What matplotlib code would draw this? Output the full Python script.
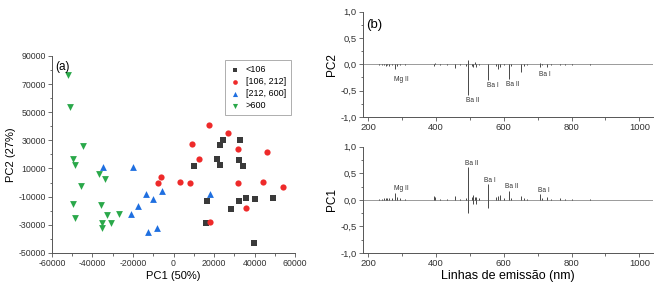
import matplotlib
matplotlib.use('Agg')
import matplotlib.pyplot as plt
from matplotlib.ticker import MultipleLocator, FixedLocator, FuncFormatter

plt.rcParams['font.family'] = ['Liberation Sans', 'DejaVu Sans']
plt.rcParams['axes.unicode_minus'] = False

# --- PCA scores (panel a) ---
groups = ['<106', '[106, 212]', '[212, 600]', '>600']

g1_x = [23000, 24500, 33000, 21300, 32500, 10300, 22800, 34500, 16700, 32500,
        35700, 40000, 49300, 28500, 16000, 39800]
g1_y = [27000, 30000, 30000, 16500, 16000, 11800, 12500, 11600, -13300, -13300,
        -11000, -12000, -11000, -18700, -29000, -43000]

g2_x = [17700, 27000, 9000, 32000, 46000, 12500, -6000, -7600, 3000, 8000,
        32000, 44000, 54000, 36000, 18000]
g2_y = [41000, 35000, 27500, 24000, 22000, 16500, 3800, 0, 400, 0,
        -300, 200, -3000, -18000, -28000]

g3_x = [-5800, -10300, 18000, -8000, -34700, -19900, -13700, -17700, -21100, -12700]
g3_y = [-5700, -11800, -7900, -32000, 10900, 10900, -8300, -16400, -22500, -35100]

g4_x = [-52200, -51300, -44500, -49500, -48600, -36600, -33800, -45800, -49800,
        -35800, -48500, -32700, -26800, -35200, -30900, -35200]
g4_y = [76700, 53800, 25800, 16800, 12500, 6300, 2800, -2200, -15000,
        -15900, -24900, -23000, -22100, -28900, -28900, -32000]

score_yticks = [-50000, -30000, -10000, 10000, 30000, 50000, 70000, 90000]

# --- loadings (panel b), wavelength in nm ---
pc2_nm = [232, 240, 248, 253, 257, 263, 270, 279.6, 285, 293, 309, 394, 396, 413,
          434, 455.4, 470, 489, 493.4, 493.4, 505, 510, 514, 519, 527, 553.5, 577,
          583, 588, 600, 614, 620, 650, 660, 670, 706, 706, 712, 728, 740, 767,
          780, 800, 855]
pc2_val = [-0.01, -0.015, -0.02, -0.025, -0.02, -0.03, -0.015, -0.08, -0.03, -0.02,
           -0.01, -0.04, 0.03, -0.01, -0.02, -0.07, -0.01, -0.04, -0.59, 0.09,
           -0.03, -0.06, 0.04, -0.05, -0.02, -0.30, -0.03, -0.08, -0.06, -0.02,
           -0.27, -0.04, -0.15, -0.03, -0.02, -0.05, 0.02, -0.02, -0.05, -0.02,
           -0.02, -0.01, -0.01, -0.01]

pc1_nm = [232, 240, 248, 253, 257, 263, 270, 279.6, 285, 293, 309, 394, 396, 413,
          434, 455.4, 470, 489, 493.4, 493.4, 505, 510, 510, 514, 519, 519, 527,
          553.5, 553.5, 577, 583, 588, 600, 614, 620, 650, 660, 670, 706, 712,
          728, 740, 767, 780, 800, 855]
pc1_val = [0.02, 0.025, 0.03, 0.04, 0.03, 0.035, 0.03, 0.13, 0.05, 0.03, 0.02,
           0.07, 0.05, 0.02, 0.02, 0.07, 0.02, 0.04, 0.62, -0.24, 0.05, 0.09,
           -0.07, 0.06, 0.05, -0.08, 0.03, 0.30, -0.16, 0.05, 0.08, 0.09, 0.03,
           0.17, 0.04, 0.08, 0.03, 0.02, 0.11, 0.03, 0.06, 0.02, 0.03, 0.02,
           0.01, 0.01]

pc2_labels = ['Mg II', 'Ba II', 'Ba I', 'Ba II', 'Ba I']
pc2_lab_nm = [299, 510, 568, 627, 720]
pc2_lab_y = [-0.29, -0.68, -0.40, -0.39, -0.19]
pc1_labels = ['Mg II', 'Ba II', 'Ba I', 'Ba II', 'Ba I']
pc1_lab_nm = [299, 505, 560, 624, 717]
pc1_lab_y = [0.22, 0.69, 0.36, 0.25, 0.18]

SPINE = '#555555'


def style_axes(ax):
    for s in ('top', 'right'):
        ax.spines[s].set_visible(False)
    for s in ('left', 'bottom'):
        ax.spines[s].set_color(SPINE)
        ax.spines[s].set_linewidth(0.7)
    ax.tick_params(which='both', direction='out', color=SPINE, width=0.6,
                   colors='#333333', pad=1.5)
    ax.tick_params(which='major', length=3)
    ax.tick_params(which='minor', length=1.8)


fig = plt.figure(figsize=(6.64, 2.90), dpi=100)

# ---------- (a) scatter ----------
ax = fig.add_axes([0.0783, 0.128, 0.366, 0.679])
ax.scatter(g1_x, g1_y, marker='s', s=16, color='#3a3a3a', label=groups[0], lw=0)
ax.scatter(g2_x, g2_y, marker='o', s=20, color='#ee2a2a', label=groups[1], lw=0)
ax.scatter(g3_x, g3_y, marker='^', s=24, color='#1f6fe0', label=groups[2], lw=0)
ax.scatter(g4_x, g4_y, marker='v', s=24, color='#2aa84a', label=groups[3], lw=0)
ax.set_xlim(-60000, 60000)
ax.set_ylim(-50000, 90000)
ax.xaxis.set_major_locator(MultipleLocator(20000))
ax.xaxis.set_minor_locator(MultipleLocator(10000))
ax.yaxis.set_major_locator(FixedLocator(score_yticks))
ax.yaxis.set_minor_locator(MultipleLocator(10000))
style_axes(ax)
ax.tick_params(labelsize=6.3)
ax.set_xlabel('PC1 (50%)', fontsize=8, labelpad=2)
ax.set_ylabel('PC2 (27%)', fontsize=8, labelpad=2)
ax.text(0.015, 0.975, '(a)', transform=ax.transAxes, fontsize=8.5,
        va='top', ha='left')
leg = ax.legend(loc='upper right', bbox_to_anchor=(1.0, 1.0), fontsize=6.5,
                frameon=True, fancybox=False, borderpad=0.5, handletextpad=0.6,
                labelspacing=0.35, handlelength=1.2, markerscale=0.75)
leg.get_frame().set_edgecolor('#999999')
leg.get_frame().set_linewidth(0.7)

# ---------- (b) loadings ----------
comma = FuncFormatter(lambda v, p: f'{v:.1f}'.replace('.', ','))


def loading_panel(rect, nm, val, labels, lab_nm, lab_y, ylabel, show_xlabel):
    a = fig.add_axes(rect)
    a.axhline(0, color='#8a8a8a', lw=0.6, zorder=1)
    a.vlines(nm, 0, val, color='#2a2a2a', lw=0.6, zorder=2)
    for t, x, y in zip(labels, lab_nm, lab_y):
        a.text(x, y, t, fontsize=4.8, ha='center', va='center', color='#333333')
    a.set_xlim(185, 1040)
    a.set_ylim(-1.0, 1.0)
    a.xaxis.set_major_locator(MultipleLocator(200))
    a.xaxis.set_minor_locator(MultipleLocator(100))
    a.yaxis.set_major_locator(MultipleLocator(0.5))
    a.yaxis.set_minor_locator(MultipleLocator(0.25))
    a.yaxis.set_major_formatter(comma)
    style_axes(a)
    a.tick_params(labelsize=6.8)
    a.set_ylabel(ylabel, fontsize=8.5, labelpad=2)
    if show_xlabel:
        a.set_xlabel('Linhas de emissão (nm)', fontsize=9, labelpad=1.5)
    return a


axb = loading_panel([0.5467, 0.5966, 0.4367, 0.3631], pc2_nm, pc2_val,
                    pc2_labels, pc2_lab_nm, pc2_lab_y, 'PC2', False)
axb.text(0.01, 0.93, '(b)', transform=axb.transAxes, fontsize=9.5,
         va='top', ha='left')
loading_panel([0.5467, 0.1276, 0.4367, 0.3665], pc1_nm, pc1_val,
              pc1_labels, pc1_lab_nm, pc1_lab_y, 'PC1', True)

fig.savefig('out.png', dpi=100)
